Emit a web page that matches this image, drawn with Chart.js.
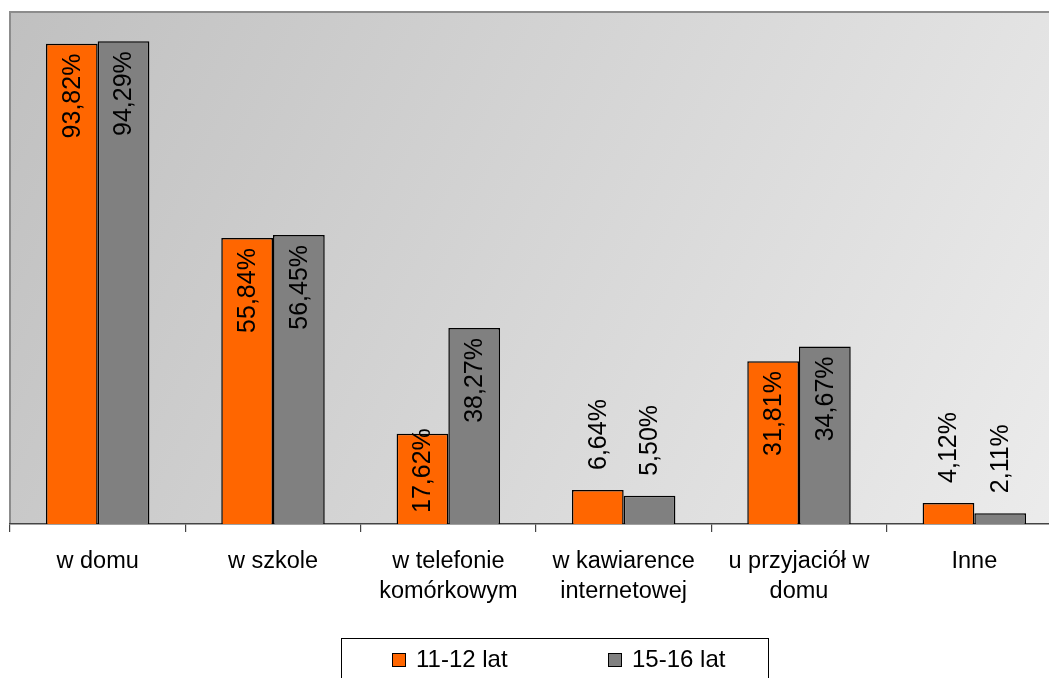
<!DOCTYPE html>
<html>
<head>
<meta charset="utf-8">
<script src="https://cdn.jsdelivr.net/npm/chart.js@4/dist/chart.umd.min.js"></script>
<style>
  html, body {
    margin: 0;
    padding: 0;
    background: #fff;
    overflow: hidden;
  }
  #wrap {
    width: 1065px;
    height: 678px;
  }
</style>
</head>
<body>
<div id="wrap"><canvas id="myChart" width="1065" height="678"></canvas></div>
<script>

const categories = [
  "w domu",
  "w szkole",
  ["w telefonie", "komórkowym"],
  ["w kawiarence", "internetowej"],
  ["u przyjaciół w", "domu"],
  "Inne"
];
const seriesNames = ["11-12 lat", "15-16 lat"];
const young = [93.82, 55.84, 17.62, 6.64, 31.81, 4.12];
const older = [94.29, 56.45, 38.27, 5.50, 34.67, 2.11];
const yTicks = { min: 0, max: 100 };

const FONT = "'Liberation Sans', Arial, sans-serif";

function fmt(v) {
  return v.toFixed(2).replace('.', ',') + '%';
}

// gradient plot background with the grey frame
const plotBackground = {
  id: 'plotBackground',
  beforeDraw(chart) {
    const { ctx, chartArea: a } = chart;
    ctx.save();
    const g = ctx.createLinearGradient(a.left, a.top, a.right, a.bottom);
    g.addColorStop(0, '#c0c0c0');
    g.addColorStop(1, '#ececec');
    ctx.fillStyle = g;
    ctx.fillRect(a.left, a.top, a.right - a.left, a.bottom - a.top);
    ctx.strokeStyle = '#8c8c8c';
    ctx.lineWidth = 2;
    ctx.beginPath();
    ctx.moveTo(a.left, a.bottom);
    ctx.lineTo(a.left, a.top);
    ctx.lineTo(a.right, a.top);
    ctx.stroke();
    ctx.restore();
  }
};

// rotated value labels, inside the bar when it fits, else above it
const valueLabels = {
  id: 'valueLabels',
  afterDatasetsDraw(chart) {
    const ctx = chart.ctx;
    ctx.save();
    ctx.font = '25px ' + FONT;
    ctx.fillStyle = '#000';
    ctx.textBaseline = 'middle';
    chart.data.datasets.forEach((ds, i) => {
      chart.getDatasetMeta(i).data.forEach((bar, j) => {
        const txt = fmt(ds.data[j]);
        const len = ctx.measureText(txt).width;
        const h = bar.base - bar.y;
        ctx.save();
        if (h > len) {
          const off = Math.min(10, h - len - 11);
          ctx.translate(bar.x + 1, bar.y + off);
          ctx.rotate(-Math.PI / 2);
          ctx.textAlign = 'right';
        } else {
          ctx.translate(bar.x + 1, bar.y - 20);
          ctx.rotate(-Math.PI / 2);
          ctx.textAlign = 'left';
        }
        ctx.fillText(txt, 0, 0);
        ctx.restore();
      });
    });
    ctx.restore();
  }
};

// boxed legend under the axis
const boxLegend = {
  id: 'boxLegend',
  afterDraw(chart) {
    const ctx = chart.ctx;
    ctx.save();
    ctx.strokeStyle = '#000';
    ctx.lineWidth = 1;
    ctx.strokeRect(341.5, 638.5, 427, 60);
    ctx.font = '24px ' + FONT;
    ctx.textBaseline = 'middle';
    ctx.textAlign = 'left';
    const xs = [392, 608];
    chart.data.datasets.forEach((ds, i) => {
      ctx.fillStyle = ds.backgroundColor;
      ctx.fillRect(xs[i] + 0.5, 653.5, 13, 13);
      ctx.strokeStyle = '#000';
      ctx.strokeRect(xs[i] + 0.5, 653.5, 13, 13);
      ctx.fillStyle = '#000';
      ctx.fillText(ds.label, xs[i] + 24, 660);
    });
    ctx.restore();
  }
};

const data = {
  labels: categories,
  datasets: [
    {
      label: seriesNames[0],
      data: young,
      backgroundColor: '#FF6600',
      borderColor: '#000',
      borderWidth: 1.5,
    },
    {
      label: seriesNames[1],
      data: older,
      backgroundColor: '#808080',
      borderColor: '#000',
      borderWidth: 1.5,
    }
  ]
};

const config = {
  type: 'bar',
  data: data,
  plugins: [plotBackground, valueLabels, boxLegend],
  options: {
    responsive: false,
    animation: false,
    events: [],
    categoryPercentage: 0.59,
    barPercentage: 1.0,
    layout: {
      padding: { left: 10, top: 12, right: 3, bottom: 0 }
    },
    plugins: {
      legend: { display: false },
      tooltip: { enabled: false },
      title: { display: false }
    },
    scales: {
      x: {
        afterFit(scale) { scale.height = 154; },
        border: { display: true, color: '#444', width: 1.5 },
        grid: {
          offset: true,
          drawOnChartArea: false,
          drawTicks: true,
          tickLength: 8,
          color: '#444',
          lineWidth: 1.2,
        },
        ticks: {
          color: '#000',
          padding: 14,
          maxRotation: 0,
          autoSkip: false,
          font: { family: FONT, size: 23.5, lineHeight: 1.3 }
        }
      },
      y: {
        display: false,
        min: yTicks.min,
        max: yTicks.max,
      }
    }
  }
};
new Chart("myChart", config);
</script>
</body>
</html>
